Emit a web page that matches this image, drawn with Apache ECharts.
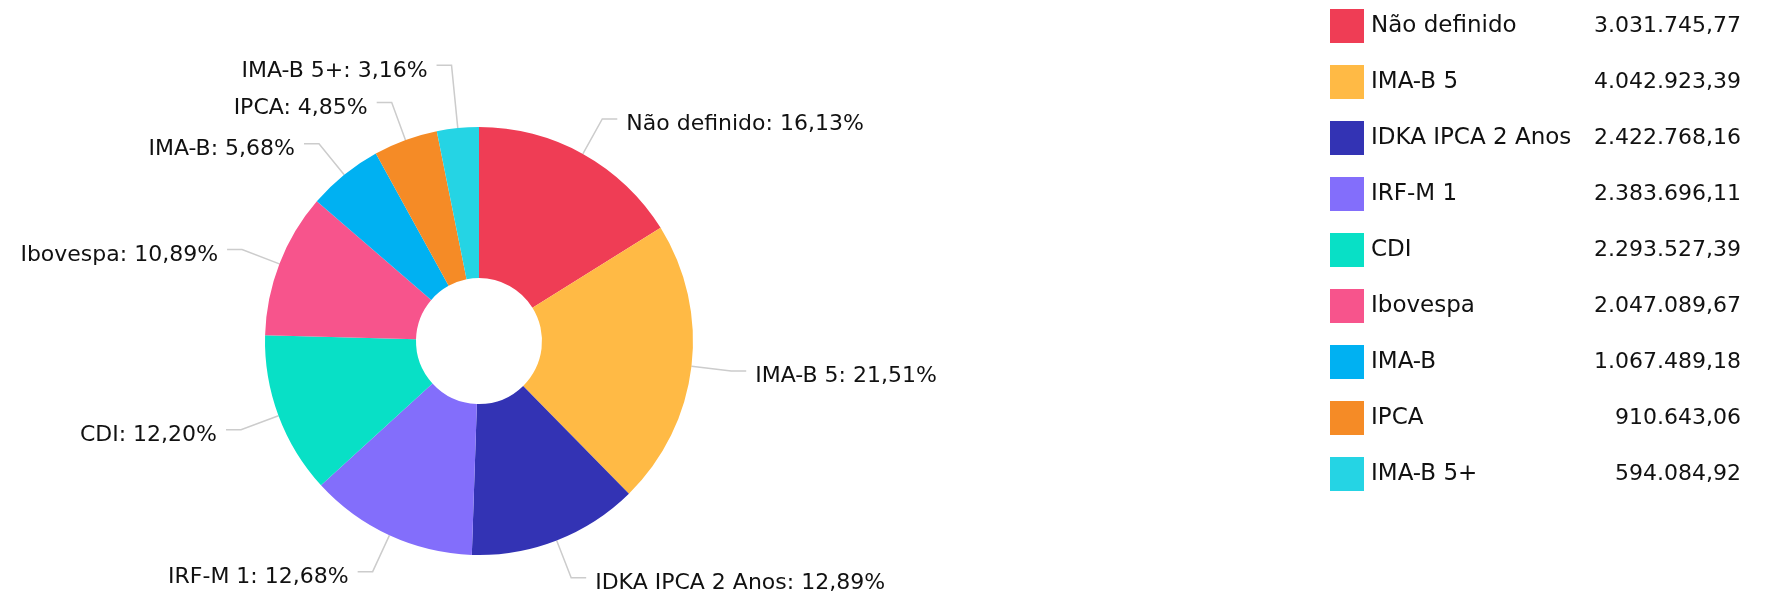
<!DOCTYPE html>
<html>
<head>
<meta charset="utf-8">
<script src="https://cdn.jsdelivr.net/npm/echarts@6/dist/echarts.min.js"></script>
<style>
  html, body { margin: 0; padding: 0; background: #fff; }
  #chart { width: 1770px; height: 597px; }
</style>
</head>
<body>
<div id="chart"></div>
<script>
var names = ["Não definido", "IMA-B 5", "IDKA IPCA 2 Anos", "IRF-M 1", "CDI", "Ibovespa", "IMA-B", "IPCA", "IMA-B 5+"];
var values = [3031745.77, 4042923.39, 2422768.16, 2383696.11, 2293527.39, 2047089.67, 1067489.18, 910643.06, 594084.92];
var colors = ["#EF3D55", "#FFBA45", "#3333B4", "#836EFB", "#08E0C6", "#F7548C", "#00B1F2", "#F58B26", "#25D4E4"];

// 1234567.89 -> "1.234.567,89"
function formatBR(v) {
    var parts = v.toFixed(2).split(".");
    var intPart = parts[0].replace(/\B(?=(\d{3})+(?!\d))/g, ".");
    return intPart + "," + parts[1];
}

var total = 0;
var valueByName = {};
for (var i = 0; i < names.length; i++) {
    valueByName[names[i]] = values[i];
    total += values[i];
}

var seriesData = [];
for (var i = 0; i < names.length; i++) {
    var item = {
        name: names[i],
        value: values[i],
        itemStyle: { color: colors[i] }
    };
    // the thinnest slice sits next to IPCA, lift its label clear of it
    if (names[i] === "IMA-B 5+") {
        item.labelLine = { length: 63 };
    }
    seriesData.push(item);
}

var myChart = echarts.init(document.getElementById("chart"));

var option = {
    animation: false,
    textStyle: {
        fontFamily: "DejaVu Sans",
        color: "#111"
    },
    legend: {
        orient: "vertical",
        left: 1330,
        top: 9,
        padding: 0,
        icon: "rect",
        itemWidth: 34,
        itemHeight: 34,
        itemGap: 22,
        selectedMode: false,
        data: names,
        formatter: function(name) {
            return "{n|" + name + "}{v|" + formatBR(valueByName[name]) + "}";
        },
        textStyle: {
            rich: {
                n: {
                    width: 220,
                    padding: [0, 0, 0, 2],
                    fontSize: 23,
                    fontFamily: "DejaVu Sans",
                    color: "#111"
                },
                v: {
                    width: 150,
                    align: "right",
                    fontSize: 22,
                    fontFamily: "DejaVu Sans",
                    color: "#111"
                }
            }
        }
    },
    series: [
        {
            type: "pie",
            center: [479, 341],
            radius: [63, 214],
            startAngle: 90,
            clockwise: true,
            avoidLabelOverlap: false,
            data: seriesData,
            label: {
                show: true,
                distanceToLabelLine: 5,
                formatter: function(p) {
                    var pct = (p.value / total * 100).toFixed(2).replace(".", ",");
                    return "{t|" + p.name + ": " + pct + "%}";
                },
                rich: {
                    t: {
                        fontSize: 22,
                        fontFamily: "DejaVu Sans",
                        color: "#111",
                        padding: [11, 4, 0, 4]
                    }
                }
            },
            labelLine: {
                show: true,
                length: 40,
                length2: 15,
                lineStyle: {
                    color: "#cccccc",
                    width: 1.5
                }
            },
            emphasis: { scale: false }
        }
    ]
};

option && myChart.setOption(option);
</script>
</body>
</html>
